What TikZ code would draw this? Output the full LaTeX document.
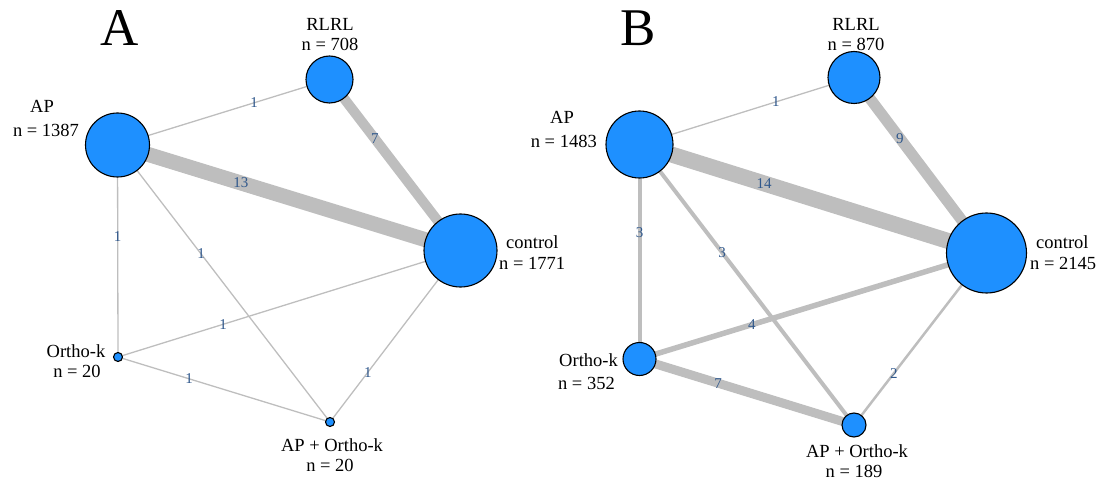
\documentclass[tikz,border=0pt]{standalone}
\usepackage{fontspec}
\setmainfont{Liberation Serif}
\pgfdeclarelayer{edges}
\pgfsetlayers{edges,main}
\definecolor{vfill}{RGB}{30,144,255}
\definecolor{egray}{RGB}{190,190,190}
\definecolor{elab}{RGB}{48,88,140}
\tikzset{
  vert/.style={circle, draw=black, line width=1.1pt, fill=vfill, inner sep=0pt},
  txt/.style={inner sep=0pt, font=\fontsize{18.5}{20}\selectfont},
  panel/.style={inner sep=0pt, font=\fontsize{53}{56}\selectfont},
  edge/.style={draw=egray, line width=#1},
  elabel/.style={inner sep=0pt, text=elab, font=\fontsize{15}{16}\selectfont}
}
\begin{document}
\begin{tikzpicture}[x=1pt,y=-1pt]
\useasboundingbox (0,0) rectangle (1106,481);

% ---------- panel A ----------
\node[panel] (lA) at (120,28) {A};
\node[vert, minimum size=47pt] (aR) at (329.5,79.5) {};
\node[vert, minimum size=64pt] (aAP) at (117.5,145) {};
\node[vert, minimum size=73pt] (aC) at (460.5,250.5) {};
\node[vert, minimum size=9pt] (aO) at (118,357) {};
\node[vert, minimum size=9pt] (aAO) at (330,422) {};

\node[txt] (taR1) at (330,24) {RLRL};
\node[txt] (taR2) at (330,44) {n = 708};
\node[txt] (taAP1) at (42,106) {AP};
\node[txt] (taAP2) at (46,130) {n = 1387};
\node[txt, anchor=west] (taC1) at (506,242) {control};
\node[txt, anchor=west] (taC2) at (499,263) {n = 1771};
\node[txt] (taO1) at (76,351) {Ortho-k};
\node[txt] (taO2) at (77,371) {n = 20};
\node[txt] (taAO1) at (332,445) {AP + Ortho-k};
\node[txt] (taAO2) at (330,465) {n = 20};

\begin{pgfonlayer}{edges}
\draw[edge=1.3pt] (aAP.center) -- node[elabel, pos=0.644] (eA1) {1} (aR.center);
\draw[edge=10pt] (aR.center) -- node[elabel, pos=0.347] (eA2) {7} (aC.center);
\draw[edge=15pt] (aAP.center) -- node[elabel, pos=0.36] (eA3) {13} (aC.center);
\draw[edge=1.3pt] (aAP.center) -- node[elabel, pos=0.434] (eA4) {1} (aO.center);
\draw[edge=1.3pt] (aAP.center) -- node[elabel, pos=0.393] (eA5) {1} (aAO.center);
\draw[edge=1.3pt] (aO.center) -- node[elabel, pos=0.307] (eA6) {1} (aC.center);
\draw[edge=1.3pt] (aO.center) -- node[elabel, pos=0.335] (eA7) {1} (aAO.center);
\draw[edge=1.3pt] (aAO.center) -- node[elabel, pos=0.291] (eA8) {1} (aC.center);
\end{pgfonlayer}

% ---------- panel B ----------
\node[panel] (lB) at (638,28) {B};
\node[vert, minimum size=52pt] (bR) at (854,77.5) {};
\node[vert, minimum size=67pt] (bAP) at (639.5,144.5) {};
\node[vert, minimum size=80pt] (bC) at (986.5,253) {};
\node[vert, minimum size=33pt] (bO) at (639.5,359) {};
\node[vert, minimum size=24pt] (bAO) at (854,425) {};

\node[txt] (tbR1) at (856,24) {RLRL};
\node[txt] (tbR2) at (856,44) {n = 870};
\node[txt] (tbAP1) at (562,117) {AP};
\node[txt, anchor=east] (tbAP2) at (597,141) {n = 1483};
\node[txt, anchor=west] (tbC1) at (1036,242) {control};
\node[txt, anchor=west] (tbC2) at (1030,263) {n = 2145};
\node[txt, anchor=east] (tbO1) at (618,360) {Ortho-k};
\node[txt, anchor=east] (tbO2) at (615,383) {n = 352};
\node[txt] (tbAO1) at (857,451) {AP + Ortho-k};
\node[txt] (tbAO2) at (854,471) {n = 189};

\begin{pgfonlayer}{edges}
\draw[edge=1.3pt] (bAP.center) -- node[elabel, pos=0.636] (eB1) {1} (bR.center);
\draw[edge=11pt] (bR.center) -- node[elabel, pos=0.347] (eB2) {9} (bC.center);
\draw[edge=16pt] (bAP.center) -- node[elabel, pos=0.359] (eB3) {14} (bC.center);
\draw[edge=4pt] (bAP.center) -- node[elabel, pos=0.413] (eB4) {3} (bO.center);
\draw[edge=4pt] (bAP.center) -- node[elabel, pos=0.385] (eB5) {3} (bAO.center);
\draw[edge=5.5pt] (bO.center) -- node[elabel, pos=0.324] (eB6) {4} (bC.center);
\draw[edge=9pt] (bO.center) -- node[elabel, pos=0.366] (eB7) {7} (bAO.center);
\draw[edge=2.5pt] (bAO.center) -- node[elabel, pos=0.30] (eB8) {2} (bC.center);
\end{pgfonlayer}
\end{tikzpicture}
\end{document}
